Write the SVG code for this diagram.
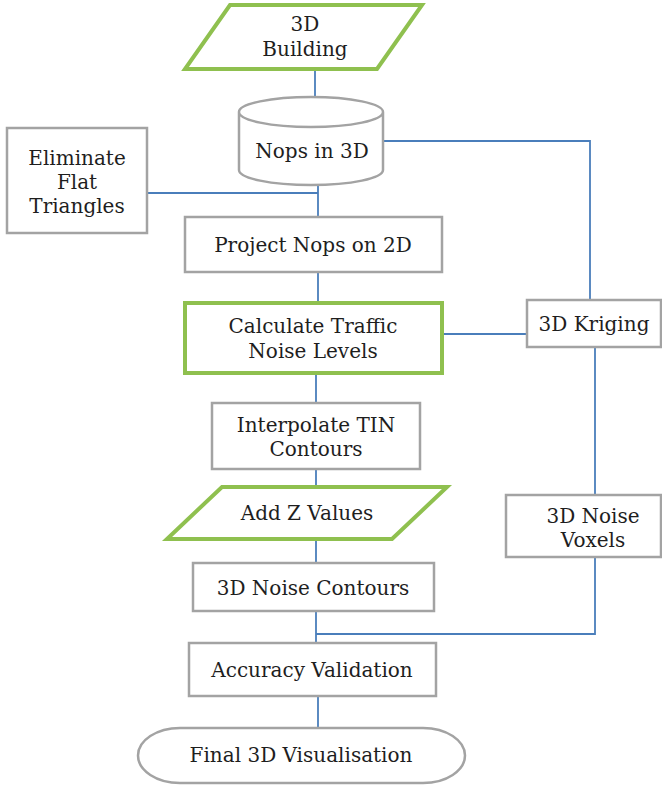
<svg xmlns="http://www.w3.org/2000/svg" width="662" height="789" viewBox="0 0 662 789">
<style>
.g{fill:#fff;stroke:#a3a3a3;stroke-width:2.5}
.gr{fill:#fff;stroke:#8fc04f;stroke-width:4}
.c{fill:none;stroke:#4a7ebb;stroke-width:1.8}
text{font-family:"DejaVu Serif","Liberation Serif",serif;font-size:20px;fill:#1e1e1e;text-anchor:middle}
</style>
<rect width="662" height="789" fill="#fff"/>
<g id="connectors">
<path class="c" d="M315 69V97"/>
<path class="c" d="M384 141H590V300"/>
<path class="c" d="M147 193H318"/>
<path class="c" d="M318 185V217"/>
<path class="c" d="M318 272V303"/>
<path class="c" d="M442 334H527"/>
<path class="c" d="M316 373V403"/>
<path class="c" d="M316 469V487"/>
<path class="c" d="M316 539V563"/>
<path class="c" d="M316 611V643"/>
<path class="c" d="M316 634H595V557"/>
<path class="c" d="M595 347V495"/>
<path class="c" d="M318 696V728"/>
</g>
<g id="building">
<polygon class="gr" points="230,5 422,5 377,69 185,69"/>
<text x="305" y="31">3D</text>
<text x="305" y="56">Building</text>
</g>
<g id="nops3d">
<path class="g" d="M239 112V170A72 15 0 0 0 383 170V112A72 15 0 0 0 239 112A72 15 0 0 0 383 112"/>
<text x="312" y="158">Nops in 3D</text>
</g>
<g id="eliminate">
<rect class="g" x="7" y="128" width="140" height="105"/>
<text x="77" y="165">Eliminate</text>
<text x="77" y="189">Flat</text>
<text x="77" y="213">Triangles</text>
</g>
<g id="project">
<rect class="g" x="185" y="217" width="257" height="55"/>
<text x="313" y="252">Project Nops on 2D</text>
</g>
<g id="calculate">
<rect class="gr" x="185" y="303" width="257" height="70"/>
<text x="313" y="333">Calculate Traffic</text>
<text x="313" y="358">Noise Levels</text>
</g>
<g id="kriging">
<rect class="g" x="527" y="300" width="134" height="47"/>
<text x="594" y="331">3D Kriging</text>
</g>
<g id="interpolate">
<rect class="g" x="212" y="403" width="208" height="66"/>
<text x="316" y="432">Interpolate TIN</text>
<text x="316" y="456">Contours</text>
</g>
<g id="addz">
<polygon class="gr" points="222,487 447,487 392,539 167,539"/>
<text x="307" y="520">Add Z Values</text>
</g>
<g id="voxels">
<rect class="g" x="506" y="495" width="155" height="62"/>
<text x="593" y="523">3D Noise</text>
<text x="593" y="547">Voxels</text>
</g>
<g id="contours3d">
<rect class="g" x="193" y="563" width="241" height="48"/>
<text x="313" y="595">3D Noise Contours</text>
</g>
<g id="accuracy">
<rect class="g" x="189" y="643" width="247" height="53"/>
<text x="312" y="677">Accuracy Validation</text>
</g>
<g id="final">
<rect class="g" x="138" y="728" width="327" height="55" rx="42" ry="27.5"/>
<text x="301" y="762">Final 3D Visualisation</text>
</g>
</svg>
